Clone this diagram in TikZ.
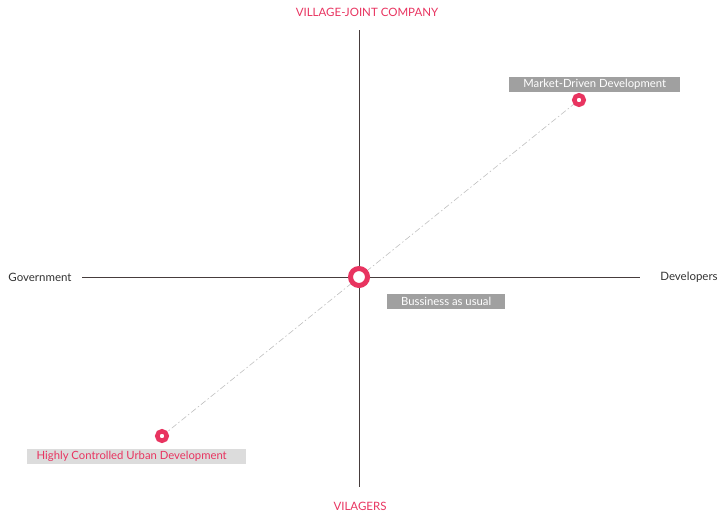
\documentclass[tikz,border=0pt]{standalone}
\usepackage{fontspec}
\setmainfont{Lato}
\usepackage{xcolor}
\usetikzlibrary{arrows.meta, calc, positioning}

\definecolor{rosepink}{RGB}{232,52,96}
\definecolor{boxgray}{RGB}{160,160,160}
\definecolor{boxlight}{RGB}{220,220,220}
\definecolor{axisgray}{RGB}{70,60,60}

\tikzset{
    axisline/.style={line width=1pt, axisgray},
    poleword/.style={font=\fontsize{11.5}{13}\selectfont, text=rosepink, inner sep=1pt},
    sideword/.style={font=\fontsize{11.5}{13}\selectfont, text=black!80, inner sep=1pt},
    darktag/.style={fill=boxgray, text=white, font=\fontsize{11.3}{13}\selectfont, minimum height=15pt, inner sep=0pt, anchor=west},
    lighttag/.style={fill=boxlight, text=rosepink, font=\fontsize{11.3}{13}\selectfont, minimum height=15pt, inner sep=0pt, anchor=west},
    dot/.style={circle, draw=rosepink, fill=white, line width=4.5pt, inner sep=0pt, minimum size=9.5pt},
}

\begin{document}
\begin{tikzpicture}[x=1pt, y=-1pt]
    \useasboundingbox (0,0) rectangle (719,514);

    % axes
    \coordinate (top) at (359,30);
    \coordinate (bottom) at (359,487);
    \coordinate (left) at (82,277);
    \coordinate (right) at (640,277);
    \draw[axisline] (top) -- (bottom);
    \draw[axisline] (left) -- (right);

    % pole labels
    \node[poleword] (company) at (367,12) {VILLAGE-JOINT COMPANY};
    \node[poleword] (villagers) at (360,506) {VILAGERS};
    \node[sideword] (government) at (40,277) {Government};
    \node[sideword] (developers) at (689,277) {Developers};

    % scenarios
    \coordinate (usualpt) at (359,277);
    \coordinate (marketpt) at (579,100);
    \coordinate (controlledpt) at (162,436);
    \draw[gray!50, line width=0.6pt, dash pattern=on 6pt off 2.5pt on 1.5pt off 2.5pt]
        (controlledpt) -- (marketpt);
    \node[dot, minimum size=17pt, line width=5pt] (usual) at (usualpt) {};
    \node[dot] (market) at (marketpt) {};
    \node[dot] (controlled) at (controlledpt) {};

    % tags
    \node[darktag, minimum width=171pt] (markettag) at (509,84) {Market-Driven Development};
    \node[darktag, minimum width=118pt] (usualtag) at (387,301) {Bussiness as usual};
    \node[lighttag, minimum width=219pt] (controlledtag) at (27,456) {Highly Controlled Urban Development\kern10pt};
\end{tikzpicture}
\end{document}
